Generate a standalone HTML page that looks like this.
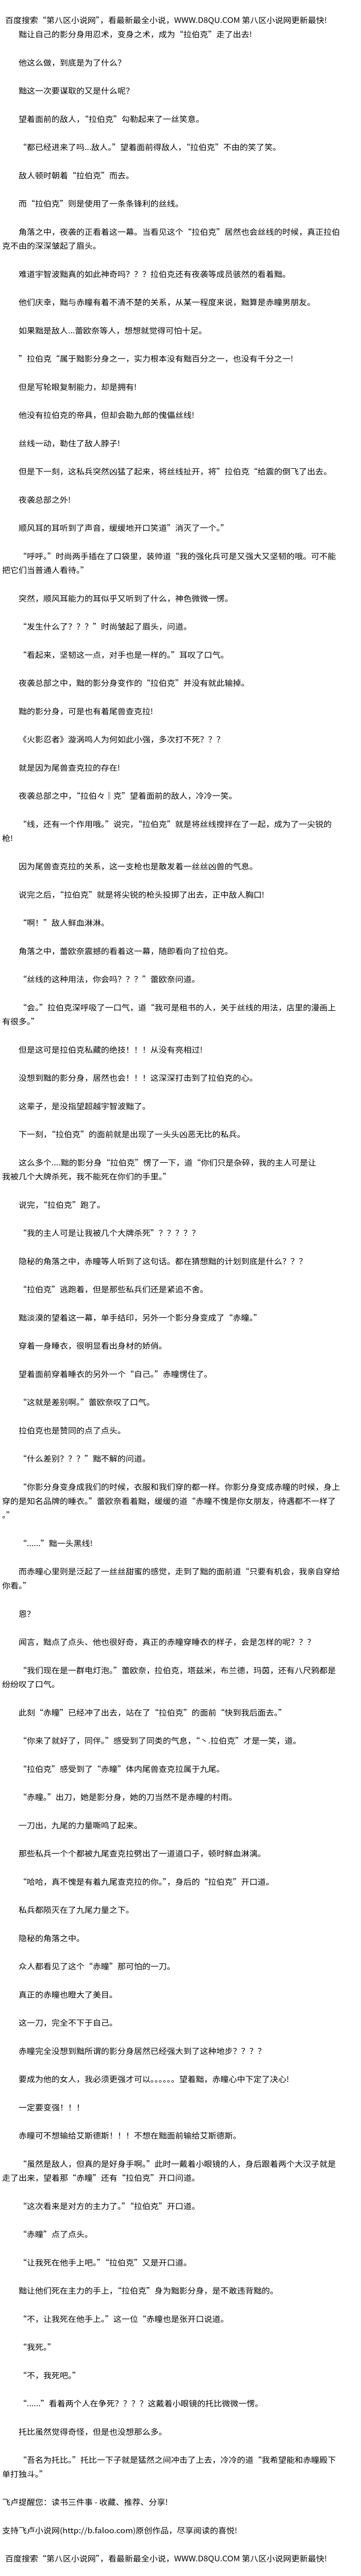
<!DOCTYPE html>
<html lang="zh">
<head>
<meta charset="utf-8">
<style>
html,body{margin:0;padding:0;background:#fff;overflow:hidden;}
svg{display:block;width:100vw;height:100vh;}
text{font-family:"Noto Sans CJK SC","WenQuanYi Zen Hei","Liberation Sans",sans-serif;font-size:16px;fill:#000;}
</style>
</head>
<body>
<svg viewBox="0 0 700 5480" preserveAspectRatio="none" xmlns="http://www.w3.org/2000/svg">
<rect width="700" height="5480" fill="#fff"/>
<text x="10" y="49">百度搜索“第八区小说网”，看最新最全小说，WWW.D8QU.COM  第八区小说网更新最快!</text>
<text x="36" y="79">黜让自己的影分身用忍术，变身之术，成为“拉伯克”走了出去!</text>
<text x="36" y="139">他这么做，到底是为了什么？</text>
<text x="36" y="199">黜这一次要谋取的又是什么呢？</text>
<text x="36" y="259">望着面前的敌人，“拉伯克”勾勒起来了一丝笑意。</text>
<text x="36" y="319">“都已经进来了吗...敌人。”望着面前得敌人，“拉伯克”不由的笑了笑。</text>
<text x="36" y="379">敌人顿时朝着“拉伯克”而去。</text>
<text x="36" y="439">而“拉伯克”则是使用了一条条锋利的丝线。</text>
<text x="36" y="499">角落之中，夜袭的正看着这一幕。当看见这个“拉伯克”居然也会丝线的时候，真正拉伯</text>
<text x="4" y="529">克不由的深深皱起了眉头。</text>
<text x="36" y="589">难道宇智波黜真的如此神奇吗？？？拉伯克还有夜袭等成员骇然的看着黜。</text>
<text x="36" y="649">他们庆幸，黜与赤瞳有着不清不楚的关系，从某一程度来说，黜算是赤瞳男朋友。</text>
<text x="36" y="709">如果黜是敌人...蕾欧奈等人，想想就觉得可怕十足。</text>
<text x="36" y="769">”拉伯克“属于黜影分身之一，实力根本没有黜百分之一，也没有千分之一!</text>
<text x="36" y="829">但是写轮眼复制能力，却是拥有!</text>
<text x="36" y="889">他没有拉伯克的帝具，但却会勘九郎的傀儡丝线!</text>
<text x="36" y="949">丝线一动，勒住了敌人脖子!</text>
<text x="36" y="1009">但是下一刻，这私兵突然凶猛了起来，将丝线扯开，将”拉伯克“给震的倒飞了出去。</text>
<text x="36" y="1069">夜袭总部之外!</text>
<text x="36" y="1129">顺风耳的耳听到了声音，缓缓地开口笑道”消灭了一个。”</text>
<text x="36" y="1189">“呼呼。”时尚两手插在了口袋里，装帅道“我的强化兵可是又强大又坚韧的哦。可不能</text>
<text x="4" y="1219">把它们当普通人看待。”</text>
<text x="36" y="1279">突然，顺风耳能力的耳似乎又听到了什么，神色微微一愣。</text>
<text x="36" y="1339">“发生什么了？？？”时尚皱起了眉头，问道。</text>
<text x="36" y="1399">“看起来，坚韧这一点，对手也是一样的。”耳叹了口气。</text>
<text x="36" y="1459">夜袭总部之中，黜的影分身变作的“拉伯克”并没有就此输掉。</text>
<text x="36" y="1519">黜的影分身，可是也有着尾兽查克拉!</text>
<text x="36" y="1579">《火影忍者》漩涡鸣人为何如此小强，多次打不死？？？</text>
<text x="36" y="1639">就是因为尾兽查克拉的存在!</text>
<text x="36" y="1699">夜袭总部之中，“拉伯々‖克”望着面前的敌人，冷冷一笑。</text>
<text x="36" y="1759">“线，还有一个作用哦。”说完，“拉伯克”就是将丝线搅拌在了一起，成为了一尖锐的</text>
<text x="4" y="1789">枪!</text>
<text x="36" y="1849">因为尾兽查克拉的关系，这一支枪也是散发着一丝丝凶兽的气息。</text>
<text x="36" y="1909">说完之后，“拉伯克”就是将尖锐的枪头投掷了出去，正中敌人胸口!</text>
<text x="36" y="1969">“啊！”敌人鲜血淋淋。</text>
<text x="36" y="2029">角落之中，蕾欧奈震撼的看着这一幕，随即看向了拉伯克。</text>
<text x="36" y="2089">“丝线的这种用法，你会吗？？？”蕾欧奈问道。</text>
<text x="36" y="2149">“会。”拉伯克深呼吸了一口气，道“我可是租书的人，关于丝线的用法，店里的漫画上</text>
<text x="4" y="2179">有很多。”</text>
<text x="36" y="2239">但是这可是拉伯克私藏的绝技！！！从没有亮相过!</text>
<text x="36" y="2299">没想到黜的影分身，居然也会！！！这深深打击到了拉伯克的心。</text>
<text x="36" y="2359">这辈子，是没指望超越宇智波黜了。</text>
<text x="36" y="2419">下一刻，“拉伯克”的面前就是出现了一头头凶恶无比的私兵。</text>
<text x="36" y="2479">这么多个....黜的影分身“拉伯克”愣了一下，道“你们只是杂碎，我的主人可是让</text>
<text x="4" y="2509">我被几个大牌杀死，我不能死在你们的手里。”</text>
<text x="36" y="2569">说完，“拉伯克”跑了。</text>
<text x="36" y="2629">“我的主人可是让我被几个大牌杀死”？？？？？</text>
<text x="36" y="2689">隐秘的角落之中，赤瞳等人听到了这句话。都在猜想黜的计划到底是什么？？？</text>
<text x="36" y="2749">“拉伯克”逃跑着，但是那些私兵们还是紧追不舍。</text>
<text x="36" y="2809">黜淡漠的望着这一幕，单手结印，另外一个影分身变成了“赤瞳。”</text>
<text x="36" y="2869">穿着一身睡衣，很明显看出身材的娇俏。</text>
<text x="36" y="2929">望着面前穿着睡衣的另外一个“自己。”赤瞳愣住了。</text>
<text x="36" y="2989">“这就是差别啊。”蕾欧奈叹了口气。</text>
<text x="36" y="3049">拉伯克也是赞同的点了点头。</text>
<text x="36" y="3109">“什么差别？？？”黜不解的问道。</text>
<text x="36" y="3169">“你影分身变身成我们的时候，衣服和我们穿的都一样。你影分身变成赤瞳的时候，身上</text>
<text x="4" y="3199">穿的是知名品牌的睡衣。”蕾欧奈看着黜，缓缓的道“赤瞳不愧是你女朋友，待遇都不一样了</text>
<text x="4" y="3229">。”</text>
<text x="36" y="3289">“......”黜一头黑线!</text>
<text x="36" y="3349">而赤瞳心里则是泛起了一丝丝甜蜜的感觉，走到了黜的面前道“只要有机会，我亲自穿给</text>
<text x="4" y="3379">你看。”</text>
<text x="36" y="3439">恩？</text>
<text x="36" y="3499">闻言，黜点了点头、他也很好奇，真正的赤瞳穿睡衣的样子，会是怎样的呢？？？</text>
<text x="36" y="3559">“我们现在是一群电灯泡。”蕾欧奈，拉伯克，塔兹米，布兰德，玛茵，还有八尺鸦都是</text>
<text x="4" y="3589">纷纷叹了口气。</text>
<text x="36" y="3649">此刻“赤瞳”已经冲了出去，站在了“拉伯克”的面前“快到我后面去。”</text>
<text x="36" y="3709">“你来了就好了，同伴。”感受到了同类的气息，“丶.拉伯克”才是一笑，道。</text>
<text x="36" y="3769">“拉伯克”感受到了“赤瞳”体内尾兽查克拉属于九尾。</text>
<text x="36" y="3829">“赤瞳。”出刀，她是影分身，她的刀当然不是赤瞳的村雨。</text>
<text x="36" y="3889">一刀出，九尾的力量嘶鸣了起来。</text>
<text x="36" y="3949">那些私兵一个个都被九尾查克拉劈出了一道道口子，顿时鲜血淋漓。</text>
<text x="36" y="4009">“哈哈，真不愧是有着九尾查克拉的你。”，身后的“拉伯克”开口道。</text>
<text x="36" y="4069">私兵都陨灭在了九尾力量之下。</text>
<text x="36" y="4129">隐秘的角落之中。</text>
<text x="36" y="4189">众人都看见了这个“赤瞳”那可怕的一刀。</text>
<text x="36" y="4249">真正的赤瞳也瞪大了美目。</text>
<text x="36" y="4309">这一刀，完全不下于自己。</text>
<text x="36" y="4369">赤瞳完全没想到黜所谓的影分身居然已经强大到了这种地步？？？？</text>
<text x="36" y="4429">要成为他的女人，我必须更强才可以。。。。。。望着黜，赤瞳心中下定了决心!</text>
<text x="36" y="4489">一定要变强！！！</text>
<text x="36" y="4549">赤瞳可不想输给艾斯德斯！！！不想在黜面前输给艾斯德斯。</text>
<text x="36" y="4609">“虽然是敌人，但真的是好身手啊。”此时一戴着小眼镜的人，身后跟着两个大汉子就是</text>
<text x="4" y="4639">走了出来，望着那“赤瞳”还有“拉伯克”开口问道。</text>
<text x="36" y="4699">“这次看来是对方的主力了。”“拉伯克”开口道。</text>
<text x="36" y="4759">“赤瞳”点了点头。</text>
<text x="36" y="4819">“让我死在他手上吧。”“拉伯克”又是开口道。</text>
<text x="36" y="4879">黜让他们死在主力的手上，“拉伯克”身为黜影分身，是不敢违背黜的。</text>
<text x="36" y="4939">“不，让我死在他手上。”这一位“赤瞳也是张开口说道。</text>
<text x="36" y="4999">“我死。”</text>
<text x="36" y="5059">“不，我死吧。”</text>
<text x="36" y="5119">“......”看着两个人在争死？？？？这戴着小眼镜的托比微微一愣。</text>
<text x="36" y="5179">托比虽然觉得奇怪，但是也没想那么多。</text>
<text x="36" y="5239">“吾名为托比。”托比一下子就是猛然之间冲击了上去，冷冷的道“我希望能和赤瞳殿下</text>
<text x="4" y="5269">单打独斗。”</text>
<text x="4" y="5329">飞卢提醒您：读书三件事 - 收藏、推荐、分享!</text>
<text x="4" y="5389">支持飞卢小说网(http://b.faloo.com)原创作品，尽享阅读的喜悦!</text>
<text x="10" y="5449">百度搜索“第八区小说网”，看最新最全小说，WWW.D8QU.COM  第八区小说网更新最快!</text>
</svg>
</body>
</html>
